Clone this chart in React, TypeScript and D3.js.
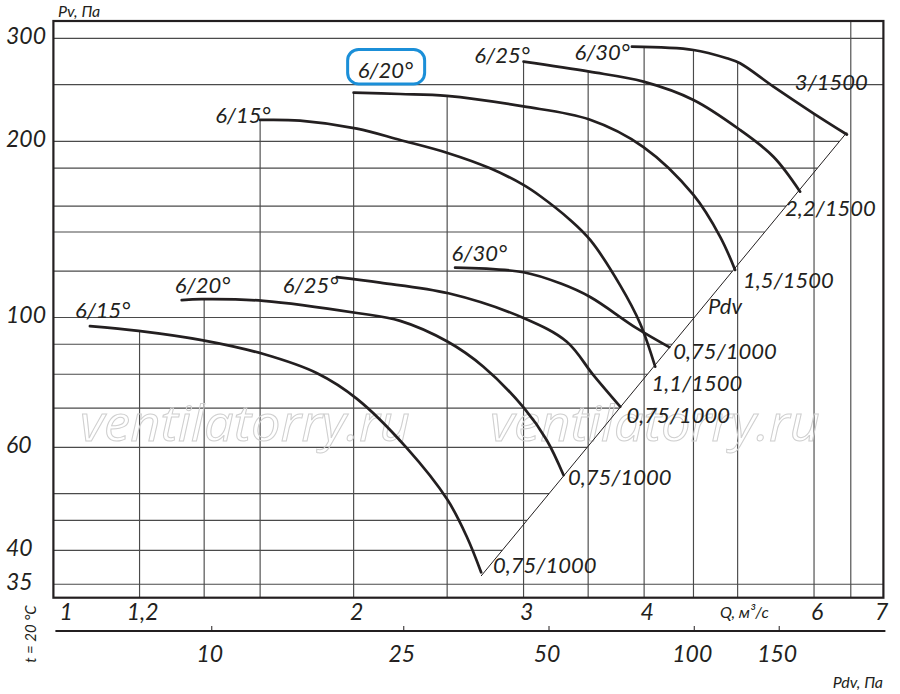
import React from 'react';
import * as d3 from 'd3';

const W = 900;
const H = 694;

// ---- axis values ----
const Q_TICK_VALUES = [1, 1.2, 2, 3, 4, 6, 7];
const Q_TICK_LABELS = ['1', '1,2', '2', '3', '4', '6', '7'];
const Q_GRID = [1.2, 1.4, 1.6, 2, 2.5, 3, 3.5, 4, 4.5, 5, 6, 6.55];
const PV_TICK_VALUES = [300, 200, 100, 60, 40, 35];
const PV_TICK_LABELS = ['300', '200', '100', '60', '40', '35'];
const PV_GRID = [300, 250, 200, 180, 155, 140, 120, 100, 90, 80, 70, 60, 50, 45, 40, 35];
const PDV_TICK_VALUES = [10, 25, 50, 100, 150];
const PDV_TICK_LABELS = ['10', '25', '50', '100', '150'];
const K_DYN = 4.92; // Pdv = K_DYN * Q^2

// ---- curves: 1500 rpm ----
const Q_15_1500 = [1.6, 1.76, 2.016, 2.235, 2.498, 2.77, 2.999, 3.121, 3.353, 3.517, 3.778, 3.962, 4.107];
const PV_15_1500 = [217.6, 217.0, 210.3, 201.1, 191.3, 179.9, 168.5, 161.3, 146.8, 135.7, 113.5, 97.7, 82.4];
const Q_20_1500 = [2.0, 2.235, 2.498, 2.999, 3.511, 3.994, 4.5, 4.796, 4.97];
const PV_20_1500 = [242.3, 241.0, 239.2, 229.5, 218.0, 195.6, 162.0, 137.4, 120.6];
const Q_25_1500 = [3.0, 3.511, 3.994, 4.5, 5.029, 5.446, 5.804];
const PV_25_1500 = [273.7, 263.1, 253.0, 235.4, 209.2, 188.3, 164.1];
const Q_30_1500 = [3.885, 4.5, 4.873, 5.029, 5.446, 5.991, 6.489];
const PV_30_1500 = [290.3, 286.6, 277.4, 272.0, 248.1, 223.4, 205.5];

// ---- curves: 1000 rpm ----
const Q_15_1000 = [1.066, 1.197, 1.392, 1.613, 1.833, 2.016, 2.271, 2.502, 2.62, 2.711];
const PV_15_1000 = [96.7, 94.9, 91.5, 86.6, 80.3, 72.6, 59.8, 48.8, 42.2, 36.7];
const Q_20_1000 = [1.327, 1.392, 1.613, 2.016, 2.235, 2.504, 2.726, 3.004, 3.171, 3.3];
const PV_20_1000 = [107.1, 107.5, 106.8, 101.8, 98.7, 90.9, 82.4, 70.0, 61.7, 53.8];
const Q_25_1000 = [1.921, 2.131, 2.508, 3.004, 3.326, 3.544, 3.778];
const PV_25_1000 = [117.2, 114.7, 110.0, 99.7, 90.9, 79.7, 70.4];
const Q_30_1000 = [2.548, 2.999, 3.274, 3.517, 3.932, 4.247];
const PV_30_1000 = [121.7, 119.5, 114.4, 108.4, 95.8, 89.0];

type Series = {
  q: number[]; pv: number[];
  startLabel: string; sAnchor: 'start' | 'end'; sdx: number; sdy: number;
  endLabel: string; edx: number; edy: number; boxed?: boolean;
};

const SERIES: Series[] = [
  { q: Q_15_1500, pv: PV_15_1500, startLabel: '6/15°', sAnchor: 'end', sdx: 10.5, sdy: 3, endLabel: '1,1/1500', edx: -3.6, edy: 24.3 },
  { q: Q_20_1500, pv: PV_20_1500, startLabel: '6/20°', sAnchor: 'start', sdx: 4, sdy: -14.7, endLabel: '1,5/1500', edx: 8, edy: 18, boxed: true },
  { q: Q_25_1500, pv: PV_25_1500, startLabel: '6/25°', sAnchor: 'end', sdx: 6.3, sdy: 1.6, endLabel: '2,2/1500', edx: -15, edy: 24 },
  { q: Q_30_1500, pv: PV_30_1500, startLabel: '6/30°', sAnchor: 'end', sdx: -2, sdy: 13.3, endLabel: '3/1500', edx: -52, edy: -44.5 },
  { q: Q_15_1000, pv: PV_15_1000, startLabel: '6/15°', sAnchor: 'start', sdx: -15, sdy: -8, endLabel: '0,75/1000', edx: 12, edy: 1 },
  { q: Q_20_1000, pv: PV_20_1000, startLabel: '6/20°', sAnchor: 'start', sdx: -7, sdy: -7, endLabel: '0,75/1000', edx: 4.6, edy: 10 },
  { q: Q_25_1000, pv: PV_25_1000, startLabel: '6/25°', sAnchor: 'end', sdx: 1.5, sdy: 15.7, endLabel: '0,75/1000', edx: 6.3, edy: 16 },
  { q: Q_30_1000, pv: PV_30_1000, startLabel: '6/30°', sAnchor: 'start', sdx: -3.6, sdy: -6.7, endLabel: '0,75/1000', edx: 4, edy: 12 },
];

const LEFT = 53.4, RIGHT = 883.4, TOP = 21, BOTTOM = 597.7;
const xs = d3.scaleLog().domain([0.977, 7.08]).range([LEFT, RIGHT]);
const ys = d3.scaleLog().domain([33.2, 321.2]).range([BOTTOM, TOP]);

const FONT = 'Lato, "Open Sans", sans-serif';
const INK = '#231f20';
const GRID = '#4a4a4a';

function pvAt(s: Series, q: number): number | null {
  const n = s.q.length;
  if (q < s.q[0] - 1e-9 || q > s.q[n - 1] + 1e-9) return null;
  for (let i = 0; i < n - 1; i++) {
    if (q >= s.q[i] - 1e-9 && q <= s.q[i + 1] + 1e-9) {
      const t = (Math.log(q) - Math.log(s.q[i])) / (Math.log(s.q[i + 1]) - Math.log(s.q[i]));
      return Math.exp(Math.log(s.pv[i]) + t * (Math.log(s.pv[i + 1]) - Math.log(s.pv[i])));
    }
  }
  return s.pv[n - 1];
}

export default function App() {
  const line = d3.line<[number, number]>()
    .x(d => xs(d[0]))
    .y(d => ys(d[1]))
    .curve(d3.curveCatmullRom.alpha(0.5));

  const qLo = Q_15_1000[Q_15_1000.length - 1];
  const qHi = Q_30_1500[Q_30_1500.length - 1];
  const pdLo = K_DYN * qLo * qLo;
  const pdHi = K_DYN * qHi * qHi;
  const diagPts: [number, number][] = [[qLo, pdLo], [qHi, pdHi]];
  const diag = d3.line<[number, number]>().x(d => xs(d[0])).y(d => ys(d[1]))(diagPts) || '';

  const vTop = (q: number) => {
    let best: number | null = null;
    SERIES.forEach(s => {
      const p = pvAt(s, q);
      if (p !== null && (best === null || p > best)) best = p;
    });
    return best === null ? TOP : ys(best);
  };
  const hRight = (v: number) => (v >= pdLo && v <= pdHi ? xs(Math.sqrt(v / K_DYN)) : RIGHT);

  const pdvX = (p: number) => xs(Math.sqrt(p / K_DYN));
  const axis2Y = 631;

  const pdvLabelQ = 4.6;

  return (
    <svg width={W} height={H} style={{ position: 'absolute', left: 0, top: 0, background: '#fff' }}
      fontFamily={FONT}>
      <rect x={0} y={0} width={W} height={H} fill="#fff" />

      {/* horizontal grid */}
      {PV_GRID.map(v => (
        <line key={'h' + v} x1={LEFT} x2={hRight(v)} y1={ys(v)} y2={ys(v)} stroke={GRID} strokeWidth={1.15} />
      ))}
      {/* vertical grid */}
      {Q_GRID.map(q => (
        <line key={'v' + q} x1={xs(q)} x2={xs(q)} y1={vTop(q)} y2={BOTTOM} stroke={GRID} strokeWidth={1.15} />
      ))}

      {/* watermark */}
      {[80, 490].map(x => (
        <text key={'wm' + x} x={x} y={441} fontSize={50} fontStyle="italic" fontFamily='"Open Sans", sans-serif'
          fill="none" stroke="#cfcfcf" strokeWidth={1} textLength={330} lengthAdjust="spacingAndGlyphs">
          ventilatorry.ru
        </text>
      ))}

      {/* dynamic pressure line */}
      <path d={diag} fill="none" stroke={INK} strokeWidth={1} />
      <text x={xs(pdvLabelQ) + 5.4} y={ys(K_DYN * pdvLabelQ * pdvLabelQ) + 6.7} fontSize={22} fontStyle="italic" fill={INK}>Pdv</text>

      {/* frame */}
      <rect x={LEFT} y={TOP} width={RIGHT - LEFT} height={BOTTOM - TOP} fill="none" stroke={INK} strokeWidth={2.2} />

      {/* curves */}
      {SERIES.map((s, i) => {
        const pts: [number, number][] = s.q.map((q, j) => [q, s.pv[j]]);
        return <path key={'c' + i} d={line(pts) || ''} fill="none" stroke={INK} strokeWidth={2.7} strokeLinecap="round" />;
      })}

      {/* curve labels */}
      {SERIES.map((s, i) => {
        const n = s.q.length;
        const x0 = xs(s.q[0]), y0 = ys(s.pv[0]);
        const x1 = xs(s.q[n - 1]), y1 = ys(s.pv[n - 1]);
        const tx = x0 + s.sdx, ty = y0 + s.sdy;
        return (
          <g key={'l' + i} fontSize={22} fontStyle="italic" fill={INK}>
            {s.boxed && (
              <rect x={tx - 10} y={ty - 28.5} width={77} height={34.5} rx={11} ry={11}
                fill="none" stroke="#1b8fd8" strokeWidth={3} />
            )}
            <text x={tx} y={ty} textAnchor={s.sAnchor}>{s.startLabel}</text>
            <text x={x1 + s.edx} y={y1 + s.edy}>{s.endLabel}</text>
          </g>
        );
      })}

      {/* Y axis labels */}
      {PV_TICK_VALUES.map((v, i) => (
        <text key={'yt' + v} x={6} y={ys(v) + 5.5} fontSize={23} fontStyle="italic" fill={INK}>{PV_TICK_LABELS[i]}</text>
      ))}
      <text x={58} y={17} fontSize={16} fontStyle="italic" fill={INK}>Pv, Па</text>

      {/* Q axis labels */}
      {Q_TICK_VALUES.map((v, i) => (
        <text key={'xt' + v} x={xs(v) + 3} y={620} fontSize={23} fontStyle="italic" fill={INK} textAnchor="middle">{Q_TICK_LABELS[i]}</text>
      ))}
      <text x={720} y={618} fontSize={16} fontStyle="italic" fill={INK}>Q, м³/с</text>

      {/* Pdv axis */}
      <line x1={LEFT + 2} x2={RIGHT + 2} y1={axis2Y} y2={axis2Y} stroke={INK} strokeWidth={2} />
      {PDV_TICK_VALUES.map((p, i) => (
        <g key={'pd' + p}>
          <line x1={pdvX(p)} x2={pdvX(p)} y1={axis2Y - 5} y2={axis2Y} stroke={INK} strokeWidth={1} />
          <text x={pdvX(p) - 2} y={662} fontSize={23} fontStyle="italic" fill={INK} textAnchor="middle">{PDV_TICK_LABELS[i]}</text>
        </g>
      ))}
      <text x={883} y={688} fontSize={16} fontStyle="italic" fill={INK} textAnchor="end">Pdv, Па</text>

      {/* temperature note */}
      <text transform="translate(36,634) rotate(-90)" fontSize={15} fontStyle="italic" fill={INK} textAnchor="middle">t = 20 °C</text>
    </svg>
  );
}
